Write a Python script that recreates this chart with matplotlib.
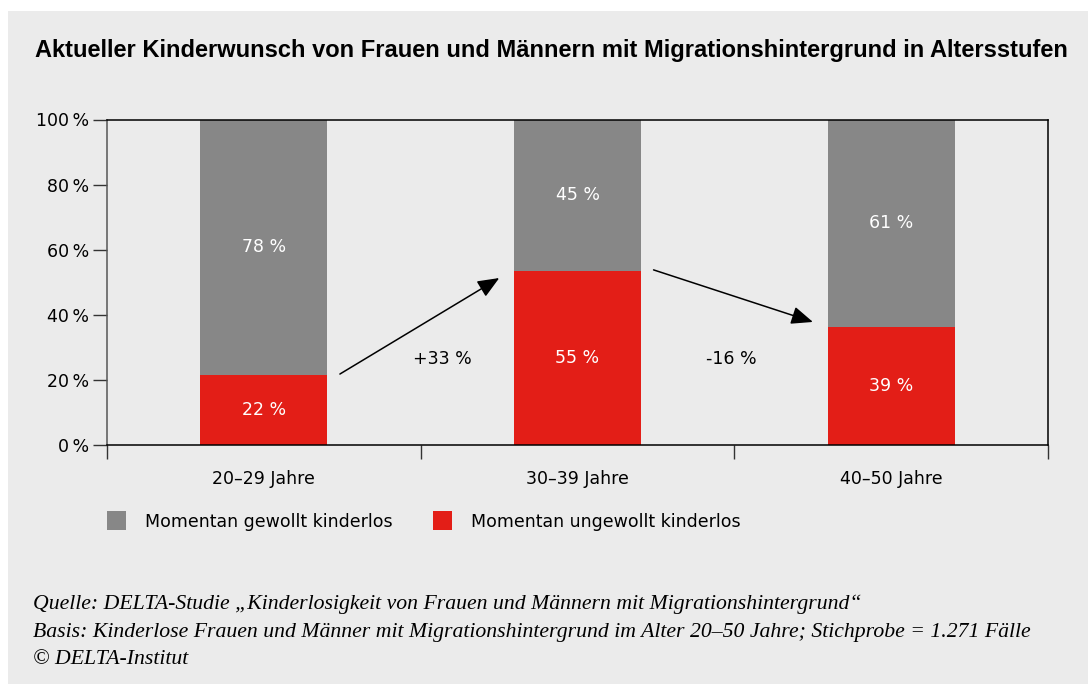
import matplotlib.pyplot as plt
from matplotlib.patches import Rectangle

# Data
categories = ['20–29 Jahre', '30–39 Jahre', '40–50 Jahre']
ungewollt = [21.5, 53.5, 36.3]      # red segment, as drawn
gewollt = [78.5, 46.5, 63.7]        # grey segment, as drawn
labels_ungewollt = ['22 %', '55 %', '39 %']
labels_gewollt = ['78 %', '45 %', '61 %']
changes = ['+33 %', '-16 %']
yticks = [0, 20, 40, 60, 80, 100]

RED = '#e31e17'
GREY = '#878787'
BG = '#ebebeb'
SERIF = ['Liberation Serif', 'DejaVu Serif']

plt.rcParams['font.family'] = ['DejaVu Sans']

fig = plt.figure(figsize=(10.88, 6.84), dpi=100)
fig.patch.set_facecolor('white')
# grey panel behind everything
fig.patches.append(Rectangle((8 / 1088, 0), 1 - 8 / 1088, 1 - 11 / 684,
                             transform=fig.transFigure, facecolor=BG,
                             edgecolor='none', zorder=-10))

ax = fig.add_axes([107 / 1088, 1 - 445 / 684, (1048 - 107) / 1088, (445 - 119.5) / 684])
ax.set_facecolor(BG)

x = list(range(len(categories)))
width = 0.405
b1 = ax.bar(x, ungewollt, width, color=RED, label='Momentan ungewollt kinderlos')
b2 = ax.bar(x, gewollt, width, bottom=ungewollt, color=GREY, label='Momentan gewollt kinderlos')

for i in x:
    ax.text(i, ungewollt[i] / 2, labels_ungewollt[i], color='white',
            ha='center', va='center', fontsize=12.5)
    ax.text(i, ungewollt[i] + gewollt[i] / 2, labels_gewollt[i], color='white',
            ha='center', va='center', fontsize=12.5)

# arrows between the red segments, with the change label in the gap
change_x = [0.57, 1.49]
for i, s in enumerate(changes):
    down = s.startswith('-')
    start = (i + width / 2 + 0.04, ungewollt[i] + 0.3)
    end = (i + 1 - width / 2 - 0.047, ungewollt[i + 1] + (1.5 if down else -2.2))
    ax.annotate('', xy=end, xytext=start,
                arrowprops=dict(arrowstyle='-|>,head_length=0.6,head_width=0.25',
                                color='black', lw=1.1,
                                mutation_scale=22, shrinkA=0, shrinkB=0))
    ax.text(change_x[i], 26.4, s, ha='center', va='center', fontsize=12.5)

ax.set_xlim(-0.5, 2.5)
ax.set_ylim(0, 100)
ax.set_yticks(yticks)
ax.set_yticklabels(['{}\u2009%'.format(v) for v in yticks], fontsize=12.5)
ax.set_xticks([-0.5, 0.5, 1.5, 2.5])
ax.set_xticklabels([])
ax.set_xticks(x, minor=True)
ax.set_xticklabels(categories, minor=True, fontsize=12.5)
ax.tick_params(axis='x', which='major', length=10, width=1, color='#333333')
ax.tick_params(axis='x', which='minor', length=0, pad=18)
ax.tick_params(axis='y', length=10, width=1, color='#333333', pad=3)
for side in ['top', 'right', 'bottom']:
    ax.spines[side].set_color('black')
    ax.spines[side].set_linewidth(1.1)
ax.spines['left'].set_color('#555555')
ax.spines['left'].set_linewidth(1.1)

# legend
leg = fig.legend(handles=[b2, b1], loc='center left',
                 bbox_to_anchor=(107 / 1088, 1 - 521 / 684), ncol=2,
                 frameon=False, fontsize=12.5, borderpad=0, borderaxespad=0,
                 handlelength=1.1, handleheight=1.3, handletextpad=1.1,
                 columnspacing=2.3)

fig.text(35 / 1088, 1 - 50 / 684,
         'Aktueller Kinderwunsch von Frauen und Männern mit Migrationshintergrund in Altersstufen',
         fontsize=17, fontweight='bold', family=['Liberation Sans', 'DejaVu Sans'],
         ha='left', va='center')

footer = [
    'Quelle: DELTA-Studie „Kinderlosigkeit von Frauen und Männern mit Migrationshintergrund“',
    'Basis: Kinderlose Frauen und Männer mit Migrationshintergrund im Alter 20–50 Jahre; Stichprobe = 1.271 Fälle',
    '© DELTA-Institut',
]
for line, ypx in zip(footer, [604, 632, 659]):
    fig.text(33 / 1088, 1 - ypx / 684, line, fontsize=15.7, style='italic',
             family=SERIF, ha='left', va='center')

fig.savefig('out.png', dpi=100, facecolor=fig.get_facecolor())
